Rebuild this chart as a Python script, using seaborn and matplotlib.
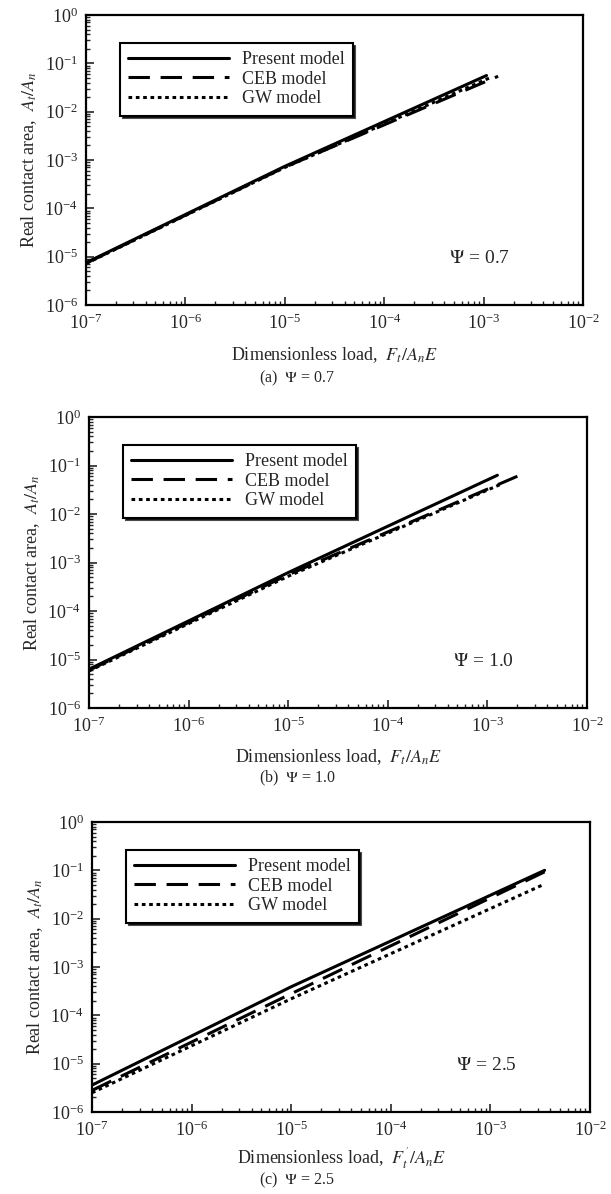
import numpy as np
import pandas as pd
import seaborn as sns
import matplotlib.pyplot as plt

# values (log-log), x = dimensionless load, y = real contact area
models = ['Present model', 'CEB model', 'GW model']
styles = {'Present model': '-', 'CEB model': (0, (7, 3.5)), 'GW model': (0, (1.2, 1.2))}

# panel (a) psi = 0.7
a_x = {'Present model': [1e-7, 1e-5, 1.07e-3],
       'CEB model': [1e-7, 1e-5, 1.4e-3],
       'GW model': [1e-7, 1e-5, 1.15e-3]}
a_y = {'Present model': [7.5e-6, 7.4e-4, 0.056],
       'CEB model': [7.3e-6, 7.1e-4, 0.054],
       'GW model': [7.2e-6, 7.0e-4, 0.050]}

# panel (b) psi = 1.0
b_x = {'Present model': [1e-7, 1e-5, 1.26e-3],
       'CEB model': [1e-7, 1e-5, 2.0e-3],
       'GW model': [1e-7, 1e-5, 1.4e-3]}
b_y = {'Present model': [6.3e-6, 6.2e-4, 0.063],
       'CEB model': [6.0e-6, 5.6e-4, 0.060],
       'GW model': [5.8e-6, 5.2e-4, 0.042]}

# panel (c) psi = 2.5
c_x = {'Present model': [1e-7, 1e-5, 3.5e-3],
       'CEB model': [1e-7, 1e-5, 3.5e-3],
       'GW model': [1e-7, 1e-5, 3.5e-3]}
c_y = {'Present model': [3.6e-6, 3.9e-4, 0.100],
       'CEB model': [2.8e-6, 2.8e-4, 0.093],
       'GW model': [2.5e-6, 2.2e-4, 0.052]}

psis = ['0.7', '1.0', '2.5']
captions = ['(a)  $\\Psi$ = 0.7', '(b)  $\\Psi$ = 1.0', '(c)  $\\Psi$ = 2.5']
xlabels = ['Dimensionless load,  $F_t/A_nE$', 'Dimensionless load,  $F_t/A_nE$',
           "Dimensionless load,  $F_t^{'}/A_nE$"]

sns.set_style('ticks')
plt.rcParams['font.family'] = ['Liberation Serif', 'DejaVu Serif']
plt.rcParams['mathtext.fontset'] = 'stix'

fig = plt.figure(figsize=(6.11, 11.94), dpi=100)
W, H = 611, 1194
boxes = [(86, 15, 583, 305), (89, 417, 587, 708), (92, 822, 590, 1112)]
label_y = [355, 757, 1158]
cap_y = [378, 778, 1180]

for i, (xs, ys) in enumerate([(a_x, a_y), (b_x, b_y), (c_x, c_y)]):
    l, t, r, b = boxes[i]
    ax = fig.add_axes([l / W, 1 - b / H, (r - l) / W, (b - t) / H])
    for m in models:
        df = pd.DataFrame({'x': xs[m], 'y': ys[m]})
        sns.lineplot(data=df, x='x', y='y', ax=ax, color='black', lw=2.2,
                     linestyle=styles[m], label=m, sort=False)
    ax.set_xscale('log')
    ax.set_yscale('log')
    ax.set_xlim(1e-7, 1e-2)
    ax.set_ylim(1e-6, 1)
    ax.set_xticks([10.0 ** k for k in range(-7, -1)])
    ax.set_yticks([10.0 ** k for k in range(-6, 1)])
    ax.tick_params(which='both', direction='in', top=False, right=False,
                   labelsize=13, pad=6)
    ax.tick_params(which='major', length=6, width=1.2)
    ax.tick_params(which='minor', length=3, width=1)
    for s in ax.spines.values():
        s.set_linewidth(1.6)
        s.set_color('black')
    ax.set_xlabel('')
    fig.text((l + r) / 2 / W, 1 - label_y[i] / H, xlabels[i], ha='center',
             va='center', fontsize=13)
    ax.set_ylabel('Real contact area,  $A_t/A_n$', fontsize=13, labelpad=4)
    ax.text(0.73, 0.16, '$\\Psi$ = ' + psis[i], transform=ax.transAxes,
            fontsize=14, va='center')
    leg = ax.legend(loc='upper left', bbox_to_anchor=(0.05, 0.935), frameon=True,
                    fancybox=False, shadow={'color': 'black', 'alpha': 0.7},
                    handlelength=5.6, handletextpad=0.7, fontsize=13,
                    borderpad=0.45, labelspacing=0.15)
    leg.get_frame().set_edgecolor('black')
    leg.get_frame().set_linewidth(1.5)
    fig.text(297 / W, 1 - cap_y[i] / H, captions[i], ha='center',
             va='center', fontsize=11.5)

fig.savefig('out.png', dpi=100)
